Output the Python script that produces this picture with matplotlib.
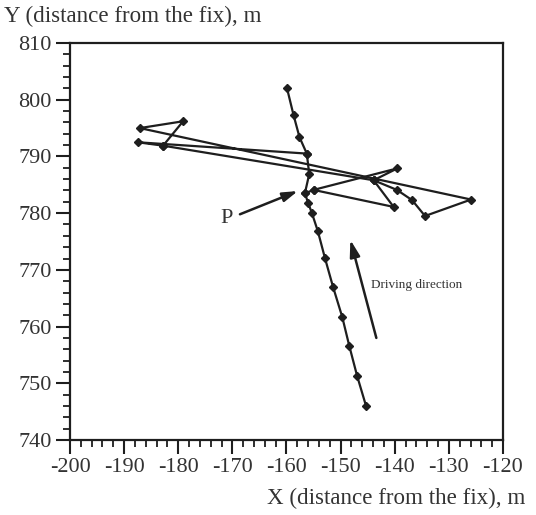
import matplotlib
matplotlib.use("Agg")
import matplotlib.pyplot as plt
from matplotlib.ticker import MultipleLocator

# Recorded vehicle track (metres from the fix), in recording order
track_x = [-145.3, -146.95, -148.4, -149.7, -151.4, -152.9, -154.2, -155.3, -156.0, -156.6,
           -155.0, -140.2, -143.9, -139.6, -136.8, -134.4, -125.9,
           -187.1, -179.1, -182.8, -187.5, -156.25, -157.6, -158.7, -159.9]
track_y = [746.0, 751.3, 756.6, 761.7, 767.0, 772.1, 776.8, 780.0, 781.8, 783.5,
           784.1, 781.1, 785.8, 784.1, 782.3, 779.5, 782.4,
           795.0, 796.2, 791.9, 792.5, 790.5, 793.4, 797.3, 802.0]

# Further fixes logged around point P
spur_x = [-155.0, -139.5, -143.9]
spur_y = [784.1, 787.9, 785.8]
spur2_x = [-182.8, -143.9]
spur2_y = [791.9, 785.8]
road_x = [-156.6, -155.8, -156.25]
road_y = [783.5, 786.9, 790.5]

x_ticks = list(range(-200, -119, 10))
y_ticks = list(range(740, 811, 10))

plt.rcParams["font.family"] = ["Liberation Serif", "DejaVu Serif"]
plt.rcParams["axes.unicode_minus"] = False
fig = plt.figure(figsize=(5.36, 5.15), dpi=100)
ax = fig.add_axes([0.1306, 0.1456, 0.8078, 0.7709])

ink = "#1e1e1e"
style = dict(color=ink, lw=1.6, marker="D", ms=3.6, mfc=ink, mec=ink)
ax.plot(track_x, track_y, **style)
ax.plot(spur_x, spur_y, **style)
ax.plot(spur2_x, spur2_y, **style)
ax.plot(road_x, road_y, **style)

ax.set_xlim(-200, -120)
ax.set_ylim(740, 810)
ax.set_xticks(x_ticks)
ax.set_yticks(y_ticks)
ax.xaxis.set_minor_locator(MultipleLocator(2))
ax.yaxis.set_minor_locator(MultipleLocator(2))
ax.tick_params(which="major", direction="out", length=10, width=1.5, color=ink,
               labelsize=16, pad=3, labelcolor="#333333")
ax.tick_params(which="minor", direction="out", length=5, width=1.3, color=ink)
for side in ["left", "bottom", "top", "right"]:
    ax.spines[side].set_linewidth(1.6)
    ax.spines[side].set_color(ink)

fig.text(0.008, 0.968, "Y (distance from the fix), m", fontsize=16.6, color="#333333",
         ha="left", va="center")
fig.text(0.98, 0.033, "X (distance from the fix), m", fontsize=16.6, color="#333333",
         ha="right", va="center")

ax.annotate("", xy=(-157.9, 783.9), xytext=(-168.6, 779.8),
            arrowprops=dict(arrowstyle="-|>,head_length=0.9,head_width=0.28",
                            color=ink, lw=1.8, shrinkA=0, shrinkB=0))
ax.text(-171.0, 779.0, "P", fontsize=16, color="#333333", ha="center", va="center")

ax.annotate("", xy=(-148.2, 775.3), xytext=(-143.4, 758.0),
            arrowprops=dict(arrowstyle="-|>,head_length=1.0,head_width=0.3",
                            color=ink, lw=1.8, shrinkA=0, shrinkB=0))
ax.text(-144.3, 767.3, "Driving direction", fontsize=9.5, color="#333333",
        ha="left", va="center")

fig.savefig("out.png", dpi=100)
